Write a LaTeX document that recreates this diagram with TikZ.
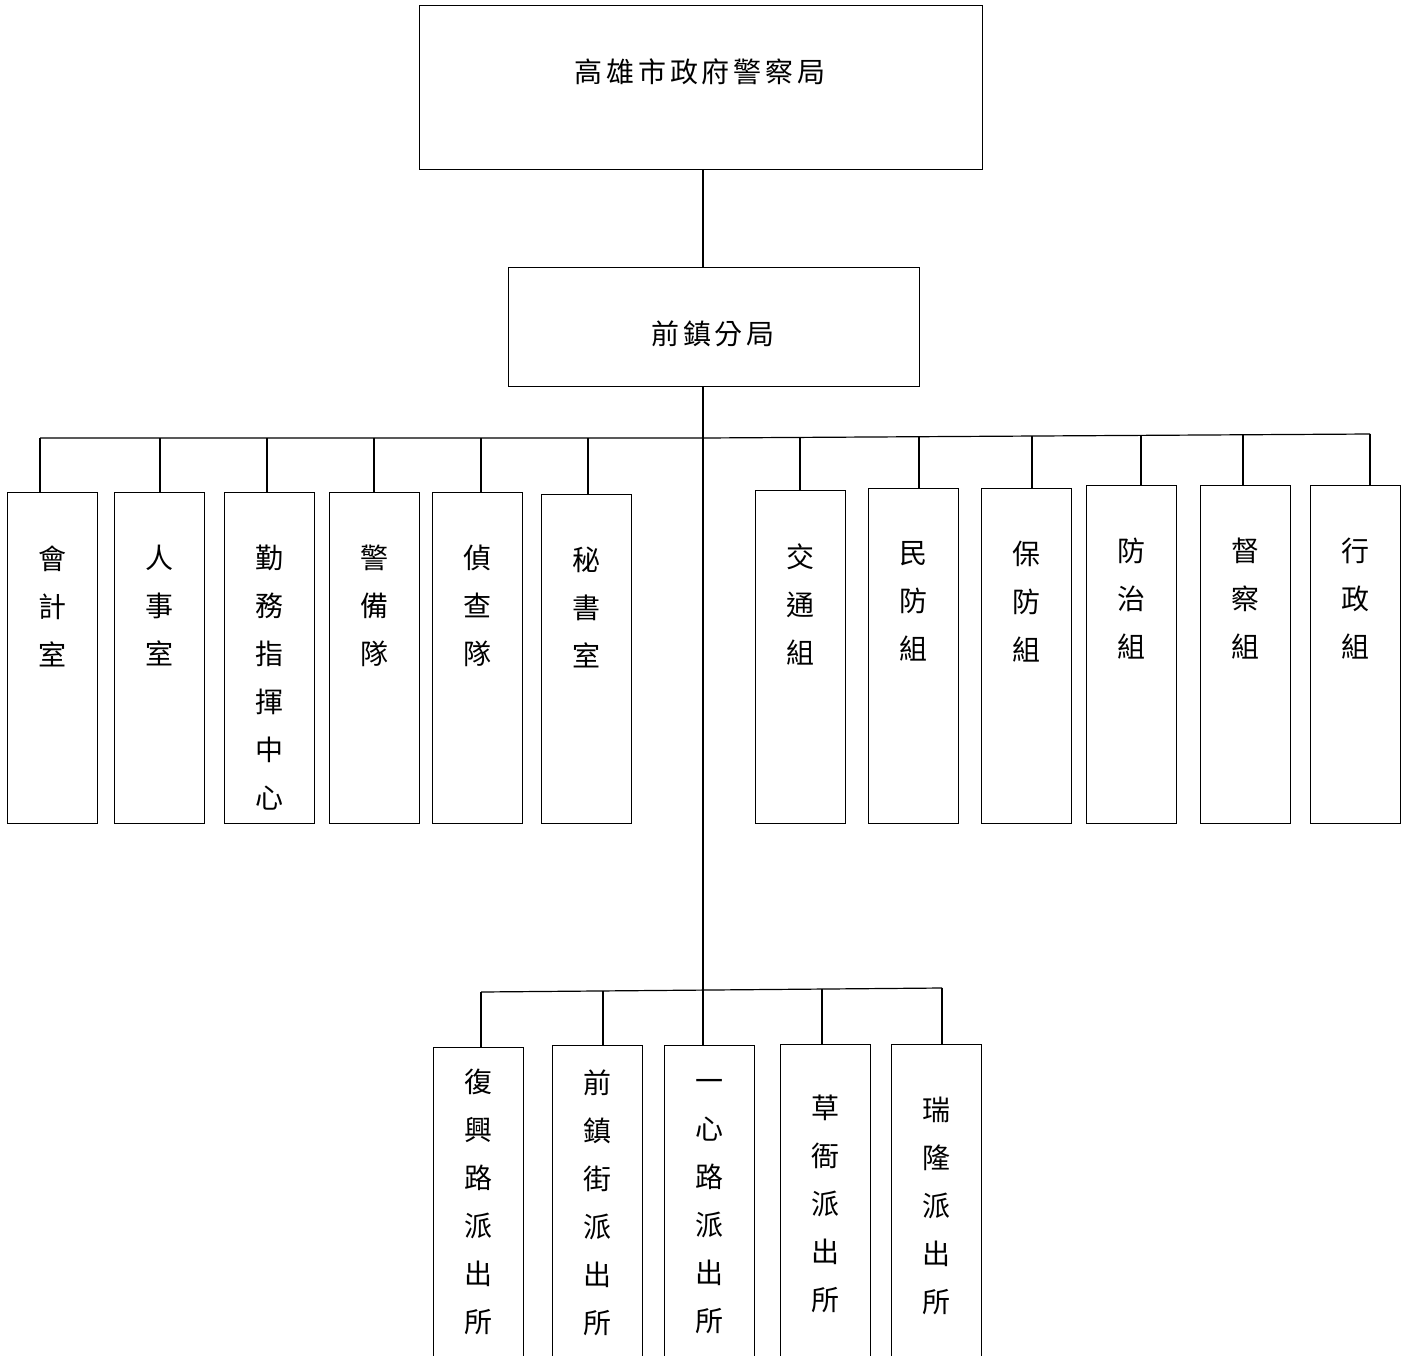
\documentclass[tikz,border=0pt]{standalone}
\usepackage{fontspec}
\setmainfont{Noto Sans CJK TC}
\usetikzlibrary{positioning}

\tikzset{
  link/.style={line width=0.6pt},
  unitbox/.style={draw,line width=0.6pt,minimum width=45pt,inner sep=0pt,anchor=north west},
  vlabel/.style={font=\fontsize{14}{24}\selectfont,align=center,inner sep=0pt,anchor=north},
  hlabel/.style={font=\fontsize{14}{16}\selectfont\addfontfeature{LetterSpace=14},inner sep=0pt}
}

\begin{document}
\begin{tikzpicture}[x=0.5pt,y=-0.5pt]
  \useasboundingbox (0,0) rectangle (1408,1355);
  \clip (0,0) rectangle (1408,1355);

  % --- Top level: city police bureau ---
  \node[unitbox,minimum width=281.5pt,minimum height=82pt] (bureau) at (419,5) {};
  \node[hlabel] (bureau-t) at (700,72) {高雄市政府警察局};

  % --- Second level: precinct ---
  \node[unitbox,minimum width=205.5pt,minimum height=59.5pt] (precinct) at (508,267) {};
  \node[hlabel] (precinct-t) at (713,334) {前鎮分局};

  \coordinate (spine) at (703,0);
  \draw[link] (spine |- bureau.south) -- (spine |- precinct.north);

  % --- Bus to sections ---
  \coordinate (busL) at (40,438);
  \coordinate (busM) at (703,438);
  \coordinate (busR) at (1370,434);
  \draw[link] (busL) -- (busM) -- (busR);

  % --- Sections (box left x / top y / drop x / drop y / text) ---
  \foreach \i/\bx/\by/\dx/\dy/\txt in {
    1/7/492/40/438/{會\\計\\室},
    2/114/492/160/438/{人\\事\\室},
    3/224/492/267/438/{勤\\務\\指\\揮\\中\\心},
    4/329/492/374/438/{警\\備\\隊},
    5/432/492/481/438/{偵\\查\\隊},
    6/541/494/588/438/{秘\\書\\室},
    7/755/490/800/437.4/{交\\通\\組},
    8/868/488/919/436.7/{民\\防\\組},
    9/981/488/1032/436/{保\\防\\組},
    10/1086/485/1141/435.4/{防\\治\\組},
    11/1200/485/1243/434.8/{督\\察\\組},
    12/1310/485/1370/434/{行\\政\\組}}{
    \node[unitbox,minimum height={(823-\by)*0.5pt}] (sec\i) at (\bx,\by) {};
    \node[vlabel,below=26.5pt of sec\i.north] (sec\i-t) {\txt};
    \coordinate (drop\i) at (\dx,\dy);
    \draw[link] (drop\i) -- (drop\i |- sec\i.north);
  }

  % --- Bus to police stations ---
  \coordinate (sbusL) at (481,992);
  \coordinate (sbusR) at (942,988);
  \draw[link] (sbusL) -- (sbusR);

  % --- Police stations (box left x / top y / drop x / drop y / text offset / text) ---
  \foreach \i/\bx/\by/\dx/\dy/\off/\txt in {
    1/433/1047/481/992/22/{復\\興\\路\\派\\出\\所},
    2/552/1045/603/991/24/{前\\鎮\\街\\派\\出\\所},
    3/664/1045/703/990/34/{一\\心\\路\\派\\出\\所},
    4/780/1044/822/989/51/{草\\衙\\派\\出\\所},
    5/891/1044/942/988/53/{瑞\\隆\\派\\出\\所}}{
    \node[unitbox,minimum height=200pt] (st\i) at (\bx,\by) {};
    \node[vlabel,below=\off*0.5pt of st\i.north] (st\i-t) {\txt};
    \coordinate (sdrop\i) at (\dx,\dy);
    \draw[link] (sdrop\i) -- (sdrop\i |- st\i.north);
  }

  % main spine down to the middle station
  \draw[link] (spine |- precinct.south) -- (spine |- st3.north);

\end{tikzpicture}
\end{document}
